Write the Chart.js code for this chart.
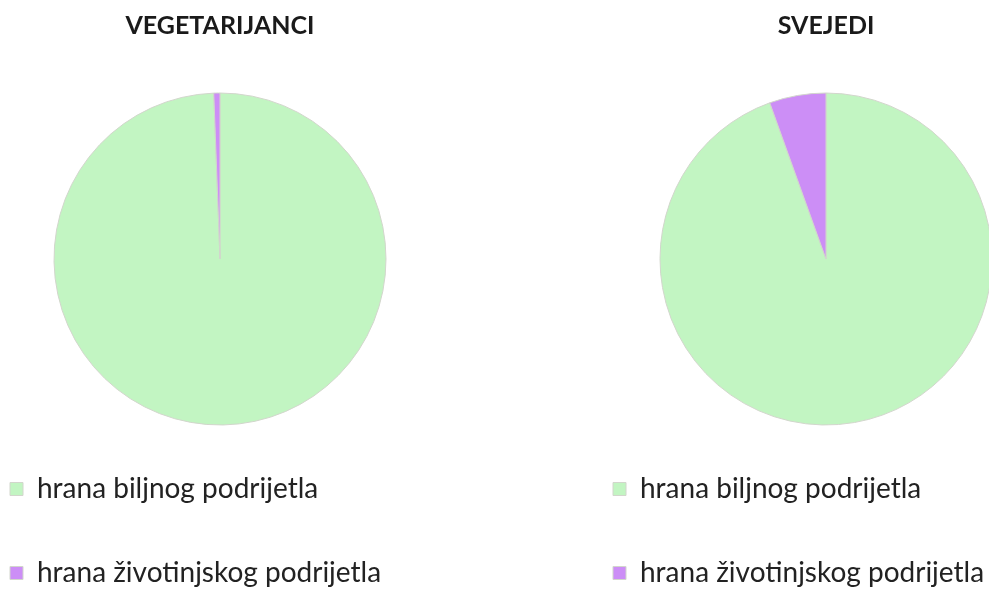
<!DOCTYPE html>
<html>
<head>
<meta charset="utf-8">
<script src="https://cdn.jsdelivr.net/npm/chart.js@4.4.1/dist/chart.umd.min.js"></script>
<style>
  html, body { margin: 0; padding: 0; background: #fff; overflow: hidden; width: 989px; height: 592px; }
  .pie-box { position: absolute; top: 0; height: 597px; }
  #vegBox { left: -46px; width: 532px; }
  #omniBox { left: 557px; width: 538px; }
</style>
</head>
<body>
<div class="pie-box" id="vegBox"><canvas id="vegChart"></canvas></div>
<div class="pie-box" id="omniBox"><canvas id="omniChart"></canvas></div>
<script>
const categories = ['hrana biljnog podrijetla', 'hrana životinjskog podrijetla'];
const vegetarianValues = [99.4, 0.6];
const omnivoreValues = [94.5, 5.5];
const chartTitles = ['VEGETARIJANCI', 'SVEJEDI'];
const sliceColors = ['#c2f5c2', '#cc8ef6'];

function makePie(canvasId, title, values) {
  const ctx = document.getElementById(canvasId).getContext('2d');
  return new Chart(ctx, {
    type: 'pie',
    data: {
      labels: categories,
      datasets: [{
        data: values,
        backgroundColor: sliceColors,
        borderColor: '#d2d6cc',
        borderWidth: 1,
        radius: 166
      }]
    },
    options: {
      responsive: true,
      maintainAspectRatio: false,
      animation: false,
      layout: { padding: 0 },
      plugins: {
        tooltip: { enabled: false },
        title: {
          display: true,
          text: title,
          color: '#1a1a1a',
          font: { family: 'Lato', size: 25, weight: 'bold' },
          padding: { top: 11, bottom: 58 }
        },
        legend: {
          position: 'bottom',
          align: 'start',
          labels: {
            color: '#222',
            font: { family: 'Lato', size: 28 },
            boxWidth: 13,
            boxHeight: 13,
            padding: 56
          }
        }
      }
    }
  });
}

makePie('vegChart', chartTitles[0], vegetarianValues);
makePie('omniChart', chartTitles[1], omnivoreValues);
</script>
</body>
</html>
